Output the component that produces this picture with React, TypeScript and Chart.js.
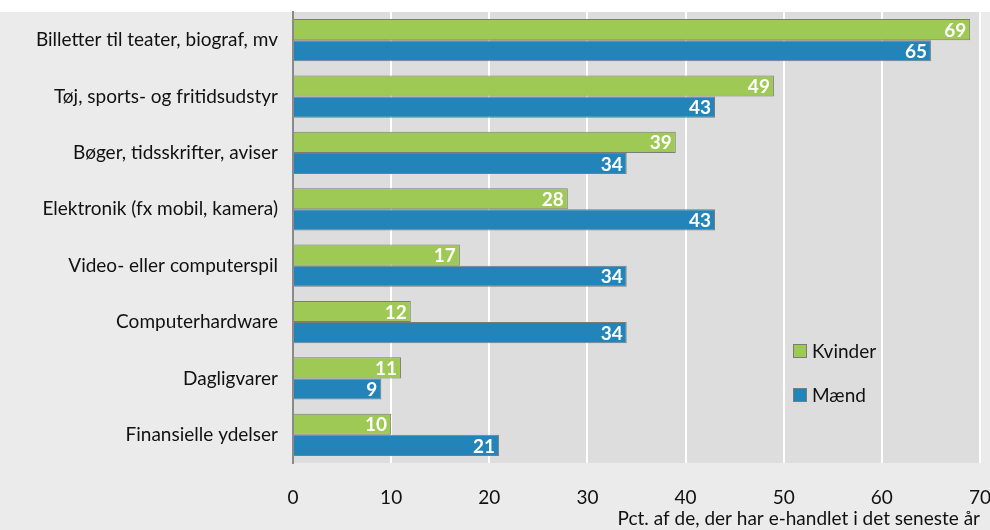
import React, { useEffect, useRef } from "react";
import { Chart, registerables } from "chart.js";

Chart.register(...registerables);

const categories = [
  "Billetter til teater, biograf, mv",
  "Tøj, sports- og fritidsudstyr",
  "Bøger, tidsskrifter, aviser",
  "Elektronik (fx mobil, kamera)",
  "Video- eller computerspil",
  "Computerhardware",
  "Dagligvarer",
  "Finansielle ydelser",
];
const kvinder = [69, 49, 39, 28, 17, 12, 11, 10];
const maend = [65, 43, 34, 43, 34, 34, 9, 21];
const seriesNames = ["Kvinder", "Mænd"];
const xTicks = [0, 10, 20, 30, 40, 50, 60, 70];
const axisTitle = "Pct. af de, der har e-handlet i det seneste år";

const FONT = "Lato";
const GREEN = "#9dc954";
const BLUE = "#2384b9";
const BORDER = "#7b7b7b";

const bgPlugin = {
  id: "bgPlugin",
  beforeDraw(chart: any) {
    const { ctx, chartArea, width, height } = chart;
    ctx.save();
    ctx.fillStyle = "#ffffff";
    ctx.fillRect(0, 0, width, height);
    ctx.fillStyle = "#ebebeb";
    ctx.fillRect(0, 12, width, height - 12);
    ctx.fillStyle = "#dddddd";
    ctx.fillRect(chartArea.left, chartArea.top, chartArea.right - chartArea.left, chartArea.bottom - chartArea.top);
    ctx.restore();
  },
};

const labelPlugin = {
  id: "labelPlugin",
  afterDatasetsDraw(chart: any) {
    const { ctx } = chart;
    ctx.save();
    ctx.font = `bold 19px ${FONT}`;
    ctx.fillStyle = "#ffffff";
    ctx.textAlign = "right";
    ctx.textBaseline = "middle";
    chart.data.datasets.forEach((ds: any, di: number) => {
      const meta = chart.getDatasetMeta(di);
      meta.data.forEach((bar: any, i: number) => {
        ctx.fillText(String(ds.data[i]), bar.x - 4, bar.y + 1);
      });
    });
    ctx.restore();
  },
};

const legendPlugin = {
  id: "legendPlugin",
  afterDraw(chart: any) {
    const { ctx } = chart;
    const colors = [GREEN, BLUE];
    const ys = [351, 395];
    ctx.save();
    ctx.font = `19px ${FONT}`;
    ctx.textBaseline = "middle";
    ctx.textAlign = "left";
    seriesNames.forEach((name, i) => {
      ctx.fillStyle = colors[i];
      ctx.fillRect(793, ys[i] - 7, 13, 13);
      ctx.strokeStyle = BORDER;
      ctx.lineWidth = 1;
      ctx.strokeRect(793.5, ys[i] - 6.5, 13, 13);
      ctx.fillStyle = "#111111";
      ctx.fillText(name, 812, ys[i] + 1);
    });
    ctx.restore();
  },
};

export default function App() {
  const ref = useRef<HTMLCanvasElement>(null);
  useEffect(() => {
    const chart = new Chart(ref.current!, {
      type: "bar",
      data: {
        labels: categories,
        datasets: [
          {
            label: seriesNames[0],
            data: kvinder,
            backgroundColor: GREEN,
            borderColor: BORDER,
            borderWidth: 1,
            borderSkipped: "left",
            barPercentage: 1,
            categoryPercentage: 0.75,
          },
          {
            label: seriesNames[1],
            data: maend,
            backgroundColor: BLUE,
            borderColor: BORDER,
            borderWidth: 1,
            borderSkipped: "left",
            barPercentage: 1,
            categoryPercentage: 0.75,
          },
        ],
      },
      options: {
        indexAxis: "y",
        animation: false,
        responsive: false,
        maintainAspectRatio: false,
        layout: { padding: { top: 12, right: 10, left: 0, bottom: 0 } },
        plugins: { legend: { display: false }, tooltip: { enabled: false } },
        scales: {
          x: {
            min: 0,
            max: 70,
            afterBuildTicks(scale: any) {
              scale.ticks = xTicks.map((v) => ({ value: v }));
            },
            afterFit(scale: any) {
              scale.height = 67;
              scale.paddingLeft = 0;
              scale.paddingRight = 0;
            },
            grid: { color: "#ffffff", lineWidth: 2, drawTicks: false },
            border: { display: false },
            ticks: { color: "#111111", font: { family: FONT, size: 19 }, padding: 23 },
            title: {
              display: true,
              text: axisTitle,
              align: "end",
              color: "#111111",
              font: { family: FONT, size: 19 },
              padding: { top: 0, bottom: 0 },
            },
          },
          y: {
            afterFit(scale: any) {
              scale.width = 293;
              scale.paddingTop = 0;
              scale.paddingBottom = 0;
            },
            grid: { display: false, drawTicks: false },
            border: { display: true, color: "#8a8a8a", width: 2 },
            ticks: { color: "#111111", font: { family: FONT, size: 19 }, padding: 15 },
          },
        },
      },
      plugins: [bgPlugin, labelPlugin, legendPlugin],
    });
    return () => chart.destroy();
  }, []);
  return (
    <div style={{ position: "absolute", left: 0, top: 0, width: 990, height: 530 }}>
      <canvas ref={ref} width={990} height={530} style={{ display: "block", width: 990, height: 530 }} />
    </div>
  );
}
